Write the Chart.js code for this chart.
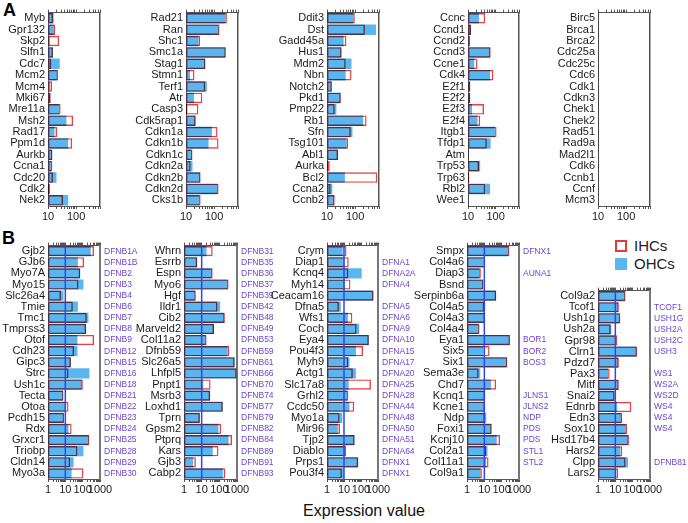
<!DOCTYPE html>
<html>
<head>
<meta charset="utf-8">
<script src="https://cdn.jsdelivr.net/npm/chart.js@4.4.0/dist/chart.umd.min.js"></script>
<style>
  html, body { margin: 0; padding: 0; background: #fff; }
  #fig { position: relative; width: 688px; height: 523px; overflow: hidden; font-family: 'Liberation Sans', Arial, sans-serif; }
  #fig canvas { position: absolute; }
  .panel { position: absolute; font-weight: bold; font-size: 18px; color: #000; }
  .legend { position: absolute; left: 615px; font-size: 15px; color: #222; line-height: 15px; white-space: nowrap; }
  .legend i { display: inline-block; width: 12px; height: 12px; vertical-align: -1px; margin-right: 7px; box-sizing: border-box; }
  .xtitle { position: absolute; left: 264px; width: 200px; top: 502px; text-align: center; font-size: 16px; color: #111; }
</style>
</head>
<body>
<div id="fig">
  <div class="panel" style="left:3px;top:0px">A</div>
  <div class="panel" style="left:2px;top:228px">B</div>
  <div class="legend" style="top:238px"><i style="border:2px solid #e63a3a"></i>IHCs</div>
  <div class="legend" style="top:256px"><i style="background:#5ab6f0"></i>OHCs</div>
  <div class="xtitle">Expression value</div>
</div>
<script>
// ---- panel A : cell-cycle genes ----
const a1Genes = ['Myb', 'Gpr132', 'Skp2', 'Slfn1', 'Cdc7', 'Mcm2', 'Mcm4', 'Mki67', 'Mre11a', 'Msh2', 'Rad17', 'Ppm1d', 'Aurkb', 'Ccna1', 'Cdc20', 'Cdk2', 'Nek2'];
const a1Ihc = [15, 18, 25, 15, 13, 23, 13.9, 12.5, 28, 78, 21, 72, 14.3, 14.3, 15, 12, 34];
const a1Ohc = [16, 16, 11.5, 15, 26, 21, 11.5, 12, 25, 45, 17, 52, 14, 13, 20, null, 52];

const a2Genes = ['Rad21', 'Ran', 'Shc1', 'Smc1a', 'Stag1', 'Stmn1', 'Terf1', 'Atr', 'Casp3', 'Cdk5rap1', 'Cdkn1a', 'Cdkn1b', 'Cdkn1c', 'Cdkn2a', 'Cdkn2b', 'Cdkn2d', 'Cks1b'];
const a2Ihc = [283, 155, 31.6, 260, 49, 19.9, 48, 38, 27.5, 22, 131, 143, 17, 14.6, 33, 143, 33];
const a2Ohc = [247, 143, 27.5, 247, 48, 13.9, 55, 19.3, null, 22, 83, 63, 16, 17, 31.6, 131, 30];

const a3Genes = ['Ddit3', 'Dst', 'Gadd45a', 'Hus1', 'Mdm2', 'Nbn', 'Notch2', 'Pkd1', 'Pmp22', 'Rb1', 'Sfn', 'Tsg101', 'Abl1', 'Aurka', 'Bcl2', 'Ccna2', 'Ccnb2'];
const a3Ihc = [97, 221, 49, 33, 46, 74, 15, 31, 18.8, 254, 70, 56, 24.7, 12.5, 611, 13.5, 18.8];
const a3Ohc = [85, 547, 39, 32.5, 74, 46, 14.3, 30, 21.5, 193, 80, 49, 24.7, null, 43, 15.5, 17.8];

const a4Genes = ['Ccnc', 'Ccnd1', 'Ccnd2', 'Ccnd3', 'Ccne1', 'Cdk4', 'E2f1', 'E2f2', 'E2f3', 'E2f4', 'Itgb1', 'Tfdp1', 'Atm', 'Trp53', 'Trp63', 'Rbl2', 'Wee1'];
const a4Ihc = [42, 13, 11.8, 66, 22, 83, 12, 12, 38, 27.6, 108, 48, 10.6, 25, 11.2, 42, null];
const a4Ohc = [25, 12.8, 11.2, 63, 16.8, 63, 12, 12, 14, 22, 95, 66, null, 27.6, null, 63, null];

const a5Genes = ['Birc5', 'Brca1', 'Brca2', 'Cdc25a', 'Cdc25c', 'Cdc6', 'Cdk1', 'Cdkn3', 'Chek1', 'Chek2', 'Rad51', 'Rad9a', 'Mad2l1', 'Cdk6', 'Ccnb1', 'Ccnf', 'Mcm3'];
const a5Ihc = [null, null, null, null, null, null, null, null, null, null, null, null, null, null, null, null, null];
const a5Ohc = [null, null, null, null, null, null, null, null, null, null, null, null, null, null, null, null, null];

// ---- panel B : deafness genes ----
const b1Genes = ['Gjb2', 'GJb6', 'Myo7A', 'Myo15', 'Slc26a4', 'Tmie', 'Tmc1', 'Tmprss3', 'Otof', 'Cdh23', 'Gipc3', 'Strc', 'Ush1c', 'Tecta', 'Otoa', 'Pcdh15', 'Rdx', 'Grxcr1', 'Triobp', 'Cldn14', 'Myo3a'];
const b1Loci = ['DFNB1A', 'DFNB1B', 'DFNB2', 'DFNB3', 'DFNB4', 'DFNB6', 'DFNB7', 'DFNB8', 'DFNB9', 'DFNB12', 'DFNB15', 'DFNB16', 'DFNB18', 'DFNB21', 'DFNB22', 'DFNB23', 'DFNB24', 'DFNB25', 'DFNB28', 'DFNB29', 'DFNB30'];
const b1Ihc = [455, 121, 72, 57, 5.6, 27, 172, 158, 455, 32, 21, 15.3, 102, 7.9, 15.3, 8.6, 23, 245, 50, 19, 111];
const b1Ohc = [292, 53, 72, 111, 7.9, 53, 215, 158, 50, 50, 21, 245, 89, 7.2, 9.9, 7.9, 15.3, 215, 111, 30, 23];

const b2Genes = ['Whrn', 'Esrrb', 'Espn', 'Myo6', 'Hgf', 'Ildr1', 'Cib2', 'Marveld2', 'Col11a2', 'Dfnb59', 'Slc26a5', 'Lhfpl5', 'Pnpt1', 'Msrb3', 'Loxhd1', 'Tprn', 'Gpsm2', 'Ptprq', 'Kars', 'Gjb3', 'Cabp2'];
const b2Loci = ['DFNB31', 'DFNB35', 'DFNB36', 'DFNB37', 'DFNB39', 'DFNB42', 'DFNB48', 'DFNB49', 'DFNB53', 'DFNB59', 'DFNB61', 'DFNB66', 'DFNB70', 'DFNB74', 'DFNB77', 'DFNB79', 'DFNB82', 'DFNB84', 'DFNB89', 'DFNB91', 'DFNB93'];
const b2Ihc = [42, 5.6, 42, 334, 4.7, 78, 205, 50, 19, 365, 738, 950, 32, 30, 157, 7.9, 127, 523, 89, 4.7, 215];
const b2Ohc = [19, 5.6, 37, 293, 4.1, 111, 188, 50, 16.7, 293, 738, 870, 12.3, 30, 157, 7.9, 89, 334, 42, 3.3, 157];

const b3Genes = ['Crym', 'Diap1', 'Kcnq4', 'Myh14', 'Ceacam16', 'Dfna5', 'Wfs1', 'Coch', 'Eya4', 'Pou4f3', 'Myh9', 'Actg1', 'Slc17a8', 'Grhl2', 'Ccdc50', 'Myo1a', 'Mir96', 'Tjp2', 'Diablo', 'Prps1', 'Pou3f4'];
const b3Loci = ['', 'DFNA1', 'DFNA2A', 'DFNA4', '', 'DFNA5', 'DFNA6', 'DFNA9', 'DFNA10', 'DFNA15', 'DFNA17', 'DFNA20', 'DFNA25', 'DFNA28', 'DFNA44', 'DFNA48', 'DFNA50', 'DFNA51', 'DFNA64', 'DFNX1', 'DFNX1'];
const b3Ihc = [14, 19, 18, 24, 540, 5, 31, 55, 290, 132, 18, 33, 385, 18, 40, 5.5, 5.8, 42, 13, 68, 7.5];
const b3Ohc = [8.4, 11, 110, 11.5, 540, 6.5, 17, 78, 290, 50, 21, 50, 19, 15, 21, 8, 4.3, 42, 12, 68, 10];

const b4Genes = ['Smpx', 'Col4a6', 'Diap3', 'Bsnd', 'Serpinb6a', 'Col4a5', 'Col4a3', 'Col4a4', 'Eya1', 'Six5', 'Six1', 'Sema3e', 'Chd7', 'Kcnq1', 'Kcne1', 'Ndp', 'Foxi1', 'Kcnj10', 'Col2a1', 'Col11a1', 'Col9a1'];
const b4Loci = ['DFNX1', '', 'AUNA1', '', '', '', '', '', 'BOR1', 'BOR2', 'BOS3', '', '', 'JLNS1', 'JLNS2', 'NDP', 'PDS', 'PDS', 'STL1', 'STL2', ''];
const b4Ihc = [280, 11, 6.3, 9, 48, 9.9, 11, 5.3, 305, 20, 215, 4.7, 48, 11, 11, 11, 27, 81, 12.8, 17.5, 7.2];
const b4Ohc = [245, 9, 5.3, 8.3, 48, 9.9, 10.3, 4.7, 280, 9, 197, 5.8, 24, 11, 10.3, 12.8, 25, 52, 15.3, 12.8, 5.8];

const b5Genes = ['Col9a2', 'Tcof1', 'Ush1g', 'Ush2a', 'Gpr98', 'Clrn1', 'Pdzd7', 'Pax3', 'Mitf', 'Snai2', 'Ednrb', 'Edn3', 'Sox10', 'Hsd17b4', 'Hars2', 'Clpp', 'Lars2'];
const b5Loci = ['', 'TCOF1', 'USH1G', 'USH2A', 'USH2C', 'USH3', '', 'WS1', 'WS2A', 'WS2D', 'WS4', 'WS4', 'WS4', '', '', 'DFNB81', ''];
const b5Ihc = [39, 16, 19.4, 5.4, 12.5, 178, 16, 4.7, 16, 9.1, 84, 25, 47, 61, 25, 39, 14.3];
const b5Ohc = [35, 14.3, 17.8, 5.9, 10.4, 163, 14.3, 3.8, 14.3, 9.1, 12.5, 22, 39, 54, 19.4, 54, 10.4];

// axis ranges and labelled ticks
const aRange = [10, 700];
const aTickLabels = [10, 100];
const bRange = [1, 1000];
const bTickLabels = [1, 10, 100, 1000];
const bRefValue = 10;

const IHC_COLOR = '#e11e23';
const OHC_COLOR = '#5ab6f0';
const LINE_COLOR = '#2f47e6';
const LOCUS_COLOR = '#6b45d6';
const FONT = "'Liberation Sans', Arial, sans-serif";
const NARROW = "'Liberation Sans Narrow', 'Liberation Sans', Arial, sans-serif";

// small tick marks at 1..9 x 10^n inside the range
function logTickValues(min, max) {
    const out = [];
    for (let p = 1; p <= max; p *= 10) {
        for (let k = 1; k < 10; k++) {
            const v = k * p;
            if (v >= min && v <= max) out.push(v);
        }
    }
    return out;
}

// IHC outlines are multiplied onto the OHC fill (darker where they cross it)
const multiplyPlugin = {
    id: 'multiplyOutline',
    beforeDatasetDraw(chart, args) {
        if (args.meta.label !== 'IHCs') return;
        chart.ctx.save();
        chart.ctx.globalCompositeOperation = 'multiply';
        chart.ctx.globalAlpha = 0.85;
    },
    afterDatasetDraw(chart, args) {
        if (args.meta.label !== 'IHCs') return;
        chart.ctx.restore();
    }
};

// vertical reference line drawn at a data value on the x scale
const refLinePlugin = {
    id: 'refLine',
    afterDatasetsDraw(chart, args, opts) {
        if (opts.value == null) return;
        const x = chart.scales.x.getPixelForValue(opts.value);
        const { top, bottom } = chart.chartArea;
        const ctx = chart.ctx;
        ctx.save();
        ctx.strokeStyle = opts.color;
        ctx.lineWidth = 1.5;
        ctx.beginPath();
        ctx.moveTo(x, top);
        ctx.lineTo(x, bottom);
        ctx.stroke();
        ctx.restore();
    }
};

function makePanel(p) {
    const leftW = Math.min(p.box.l, 80);
    const rightW = 48;
    const topH = 6;
    const bottomH = 24;
    const w = leftW + (p.box.r - p.box.l) + rightW;
    const h = topH + (p.box.b - p.box.t) + bottomH;

    const canvas = document.createElement('canvas');
    canvas.width = w;
    canvas.height = h;
    canvas.style.left = (p.box.l - leftW) + 'px';
    canvas.style.top = (p.box.t - topH) + 'px';
    canvas.style.width = w + 'px';
    canvas.style.height = h + 'px';
    document.getElementById('fig').appendChild(canvas);

    const tickVals = logTickValues(p.range[0], p.range[1]);
    const markGrid = { display: true, drawOnChartArea: false, drawTicks: true, tickLength: 3, color: '#555' };
    const isB = p.loci.some(s => s !== '');

    return new Chart(canvas, {
        type: 'bar',
        data: {
            labels: p.genes,
            datasets: [
                {
                    label: 'IHCs', data: p.ihc, order: 0, grouped: false,
                    backgroundColor: 'rgba(0,0,0,0)', borderColor: IHC_COLOR, borderWidth: 1.4, borderSkipped: false,
                    categoryPercentage: 1, barPercentage: 0.92
                },
                {
                    label: 'OHCs', data: p.ohc, order: 1, grouped: false,
                    backgroundColor: OHC_COLOR, borderWidth: 0,
                    categoryPercentage: 1, barPercentage: 0.92
                }
            ]
        },
        options: {
            indexAxis: 'y',
            responsive: false,
            animation: false,
            layout: { padding: 0 },
            plugins: {
                legend: { display: false },
                tooltip: { enabled: false },
                refLine: { value: p.refValue, color: LINE_COLOR }
            },
            scales: {
                x: {
                    type: 'logarithmic', position: 'bottom', min: p.range[0], max: p.range[1],
                    afterBuildTicks: s => { s.ticks = tickVals.map(v => ({ value: v })); },
                    afterFit: s => { s.height = bottomH; },
                    ticks: {
                        autoSkip: false, maxRotation: 0, padding: 1, color: '#222',
                        font: { size: 11, family: isB ? NARROW : FONT },
                        callback: v => p.tickLabels.includes(v) ? String(v) : ''
                    },
                    grid: markGrid,
                    border: { display: true, color: '#555', width: 1 }
                },
                xTop: {
                    type: 'logarithmic', position: 'top', min: p.range[0], max: p.range[1],
                    afterBuildTicks: s => { s.ticks = tickVals.map(v => ({ value: v })); },
                    afterFit: s => { s.height = topH; },
                    ticks: { display: false },
                    grid: markGrid,
                    border: { display: true, color: '#555', width: 1 }
                },
                y: {
                    type: 'category', position: 'left', offset: true,
                    afterFit: s => { s.width = leftW; },
                    ticks: { autoSkip: false, padding: 3, color: '#1a1a1a', font: { size: 11, family: FONT } },
                    grid: { display: false, drawTicks: false },
                    border: { display: true, color: '#444', width: 1 }
                },
                y2: {
                    type: 'category', position: 'right', offset: true, labels: p.loci,
                    afterFit: s => { s.width = rightW; },
                    ticks: { autoSkip: false, padding: 4, color: LOCUS_COLOR, font: { size: 8.5, family: NARROW } },
                    grid: { display: false, drawTicks: false },
                    border: { display: true, color: isB ? '#777' : '#555', width: isB ? 2 : 1.5 }
                }
            }
        },
        plugins: [multiplyPlugin, refLinePlugin]
    });
}

const blank = genes => genes.map(() => '');
const aTop = 9, aBottom = 206, bTop = 242, bBottom = 479;

const panels = [
    { genes: a1Genes, ihc: a1Ihc, ohc: a1Ohc, loci: blank(a1Genes), box: { l: 48, r: 100, t: aTop, b: aBottom } },
    { genes: a2Genes, ihc: a2Ihc, ohc: a2Ohc, loci: blank(a2Genes), box: { l: 186, r: 238, t: aTop, b: aBottom } },
    { genes: a3Genes, ihc: a3Ihc, ohc: a3Ohc, loci: blank(a3Genes), box: { l: 327, r: 379, t: aTop, b: aBottom } },
    { genes: a4Genes, ihc: a4Ihc, ohc: a4Ohc, loci: blank(a4Genes), box: { l: 468, r: 519, t: aTop, b: aBottom } },
    { genes: a5Genes, ihc: a5Ihc, ohc: a5Ohc, loci: blank(a5Genes), box: { l: 598, r: 650, t: aTop, b: aBottom } }
].map(p => Object.assign(p, { range: aRange, tickLabels: aTickLabels, refValue: null }));

const bPanels = [
    { genes: b1Genes, ihc: b1Ihc, ohc: b1Ohc, loci: b1Loci, box: { l: 48, r: 100, t: bTop, b: bBottom } },
    { genes: b2Genes, ihc: b2Ihc, ohc: b2Ohc, loci: b2Loci, box: { l: 184, r: 237, t: bTop, b: bBottom } },
    { genes: b3Genes, ihc: b3Ihc, ohc: b3Ohc, loci: b3Loci, box: { l: 327, r: 378, t: bTop, b: bBottom } },
    { genes: b4Genes, ihc: b4Ihc, ohc: b4Ohc, loci: b4Loci, box: { l: 467, r: 519, t: bTop, b: bBottom } },
    { genes: b5Genes, ihc: b5Ihc, ohc: b5Ohc, loci: b5Loci, box: { l: 598, r: 650, t: 287, b: bBottom } }
].map(p => Object.assign(p, { range: bRange, tickLabels: bTickLabels, refValue: bRefValue }));

panels.concat(bPanels).forEach(makePanel);
</script>
</body>
</html>
